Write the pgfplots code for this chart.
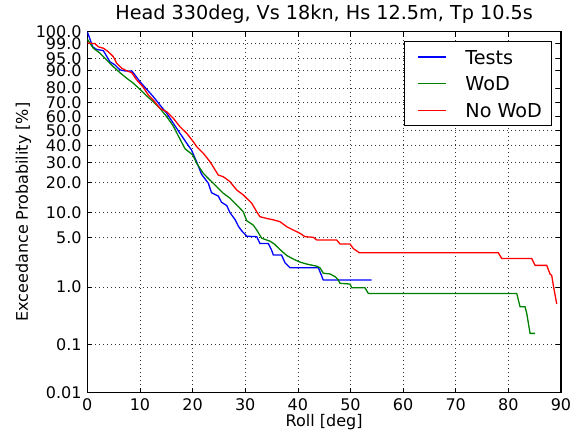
\documentclass[border=0pt]{standalone}
\usepackage{fontspec}
\setmainfont{DejaVu Sans}
\usepackage{pgfplots}
\usepackage{pgfplotstable}
\pgfplotsset{compat=1.18}

\definecolor{mplblue}{rgb}{0,0,1}
\definecolor{mplgreen}{rgb}{0,0.5,0}
\definecolor{mplred}{rgb}{1,0,0}

% Exceedance curves: roll angle [deg] vs exceedance probability [%]
\pgfplotstableread{
roll p
0.0 100.0
1.03 98.4
1.79 97.8
3.04 97.5
3.55 96.2
4.31 93.8
5.26 92.5
6.21 90.2
7.16 89.7
8.44 89.7
9.06 87.6
10.01 83.8
11.29 79.1
12.54 74.2
13.81 68.4
15.09 62.5
16.34 55.3
17.61 48.2
18.89 41.5
19.8 37.2
20.8 30.0
21.7 23.8
23.0 19.7
23.6 16.0
24.9 14.8
25.5 12.8
26.5 11.8
27.1 9.9
28.1 8.2
28.7 6.9
29.3 6.1
30.3 5.2
32.19 5.13
32.8 4.2
34.39 4.2
35.0 3.45
35.34 2.95
36.9 2.95
37.56 2.3
38.51 1.95
43.9 1.95
44.84 1.28
54.04 1.28
}\tests

\pgfplotstableread{
roll p
0.0 99.6
1.14 98.1
2.41 96.8
3.69 94.5
4.94 91.7
6.21 88.8
7.49 85.8
8.74 82.9
10.01 79.1
11.29 74.7
12.54 70.7
13.81 66.0
15.09 60.0
16.34 53.3
17.5 45.0
18.56 38.0
20.03 34.2
20.79 29.4
22.04 24.2
23.31 21.1
24.59 18.3
25.84 15.8
27.11 14.1
28.39 12.0
29.64 10.1
30.29 8.0
31.54 7.1
32.19 6.2
33.14 4.9
34.7 4.5
35.6 4.1
36.6 3.5
37.9 2.9
39.1 2.6
40.4 2.35
41.7 2.2
43.6 2.05
44.2 1.95
44.84 1.62
46.11 1.58
47.1 1.44
47.7 1.28
48.01 1.14
49.91 1.11
50.24 0.97
52.76 0.97
53.39 0.79
81.59 0.79
82.22 0.477
83.17 0.477
83.49 0.368
84.12 0.161
85.07 0.161
}\wod

\pgfplotstableread{
roll p
0.0 99.1
1.46 99.0
2.09 98.4
3.04 98.1
3.99 97.2
4.94 95.7
5.59 93.2
6.54 91.0
7.49 89.8
8.44 88.8
9.39 84.8
10.64 80.4
11.59 75.3
12.54 71.9
13.81 66.0
15.09 63.6
16.34 58.9
17.61 52.8
18.89 48.2
20.14 42.5
20.79 39.3
22.04 35.2
23.31 30.3
24.89 23.4
25.84 22.6
27.11 20.4
28.39 17.0
29.64 15.2
31.24 12.5
32.19 10.1
32.81 8.9
34.09 8.5
35.34 8.2
36.61 7.8
37.89 6.8
39.14 6.2
40.41 5.66
41.36 5.13
42.94 5.04
43.59 4.66
47.39 4.66
48.01 4.14
49.91 4.14
50.54 3.6
51.19 3.35
51.7 3.16
78.09 3.16
78.74 2.63
84.44 2.63
85.07 2.11
87.29 2.11
87.91 1.58
88.24 1.5
88.55 1.05
89.19 0.53
}\nowod

\begin{document}
\begin{tikzpicture}
\begin{axis}[
  name=ax,
  scale only axis,
  width=473.7bp, height=361bp,
  xmin=0, xmax=90,
  % Rayleigh probability scale: y = -sqrt(-ln(P))
  ymin=-3.0349, ymax=0,
  xtick={0,10,...,90},
  ytick={-3.0349,-2.6283,-2.1460,-1.7308,-1.5174,-1.2686,-1.0973,-0.9572,-0.8326,-0.7147,-0.5972,-0.4724,-0.3246,-0.2265,-0.1003,0},
  yticklabels={0.01,0.1,1.0,5.0,10.0,20.0,30.0,40.0,50.0,60.0,70.0,80.0,90.0,95.0,99.0,100.0},
  tick align=inside, tick pos=both,
  major tick length=5bp,
  every tick/.style={black, line width=0.6bp},
  axis line style={black, line width=1.2bp},
  grid=major,
  major grid style={black!80, line width=0.6bp, dash pattern=on 1bp off 3bp},
  /pgf/number format/assume math mode=true,
  ticklabel style={font=\fontsize{16bp}{19bp}\selectfont},
  xticklabel style={inner sep=0pt, anchor=north, yshift=-6bp},
  yticklabel style={inner sep=0pt, anchor=east, xshift=-5.5bp},
  xlabel={Roll [deg]},
  ylabel={Exceedance Probability [\%]},
  xlabel style={at={(axis description cs:0.5,-0.0942)}, anchor=base, inner sep=0pt, font=\fontsize{16bp}{19bp}\selectfont},
  ylabel style={at={(axis description cs:-0.1252,0.5)}, anchor=base, rotate=0, inner sep=0pt, font=\fontsize{16bp}{19bp}\selectfont},
  title={Head 330deg, Vs 18kn, Hs 12.5m, Tp 10.5s},
  title style={at={(axis description cs:0.5,1)}, anchor=base, yshift=6.7bp, inner sep=0pt, font=\fontsize{19.2bp}{23bp}\selectfont},
  legend cell align=left,
  legend image code/.code={\path (-2.6bp,0) (28bp,0); \draw[#1, line width=1.3bp] (0bp,0bp) -- (28bp,0bp);},
  legend style={at={(1,1)}, anchor=north east, xshift=-8.7bp, yshift=-9.6bp,
    draw=black, fill=white,
    inner xsep=9.7bp, inner ysep=8.2bp, row sep=12.7bp, column sep=19.2bp,
    nodes={inner sep=0pt, text depth=0pt},
    font=\fontsize{19.2bp}{23bp}\selectfont},
  every axis legend/.append style={line width=1.2bp},
]
\addplot[mplblue, line width=1.3bp] table[x=roll, y expr={-sqrt(abs(ln(\thisrow{p}/100)))}] {\tests};
\addlegendentry{Tests}
\addplot[mplgreen, line width=1.3bp] table[x=roll, y expr={-sqrt(abs(ln(\thisrow{p}/100)))}] {\wod};
\addlegendentry{WoD}
\addplot[mplred, line width=1.3bp] table[x=roll, y expr={-sqrt(abs(ln(\thisrow{p}/100)))}] {\nowod};
\addlegendentry{No WoD}
\end{axis}
% page frame around the axis box
\path ([xshift=-87.3bp,yshift=-39.3bp]ax.south west) rectangle ([xshift=15bp,yshift=31.7bp]ax.north east);
\end{tikzpicture}
\end{document}
